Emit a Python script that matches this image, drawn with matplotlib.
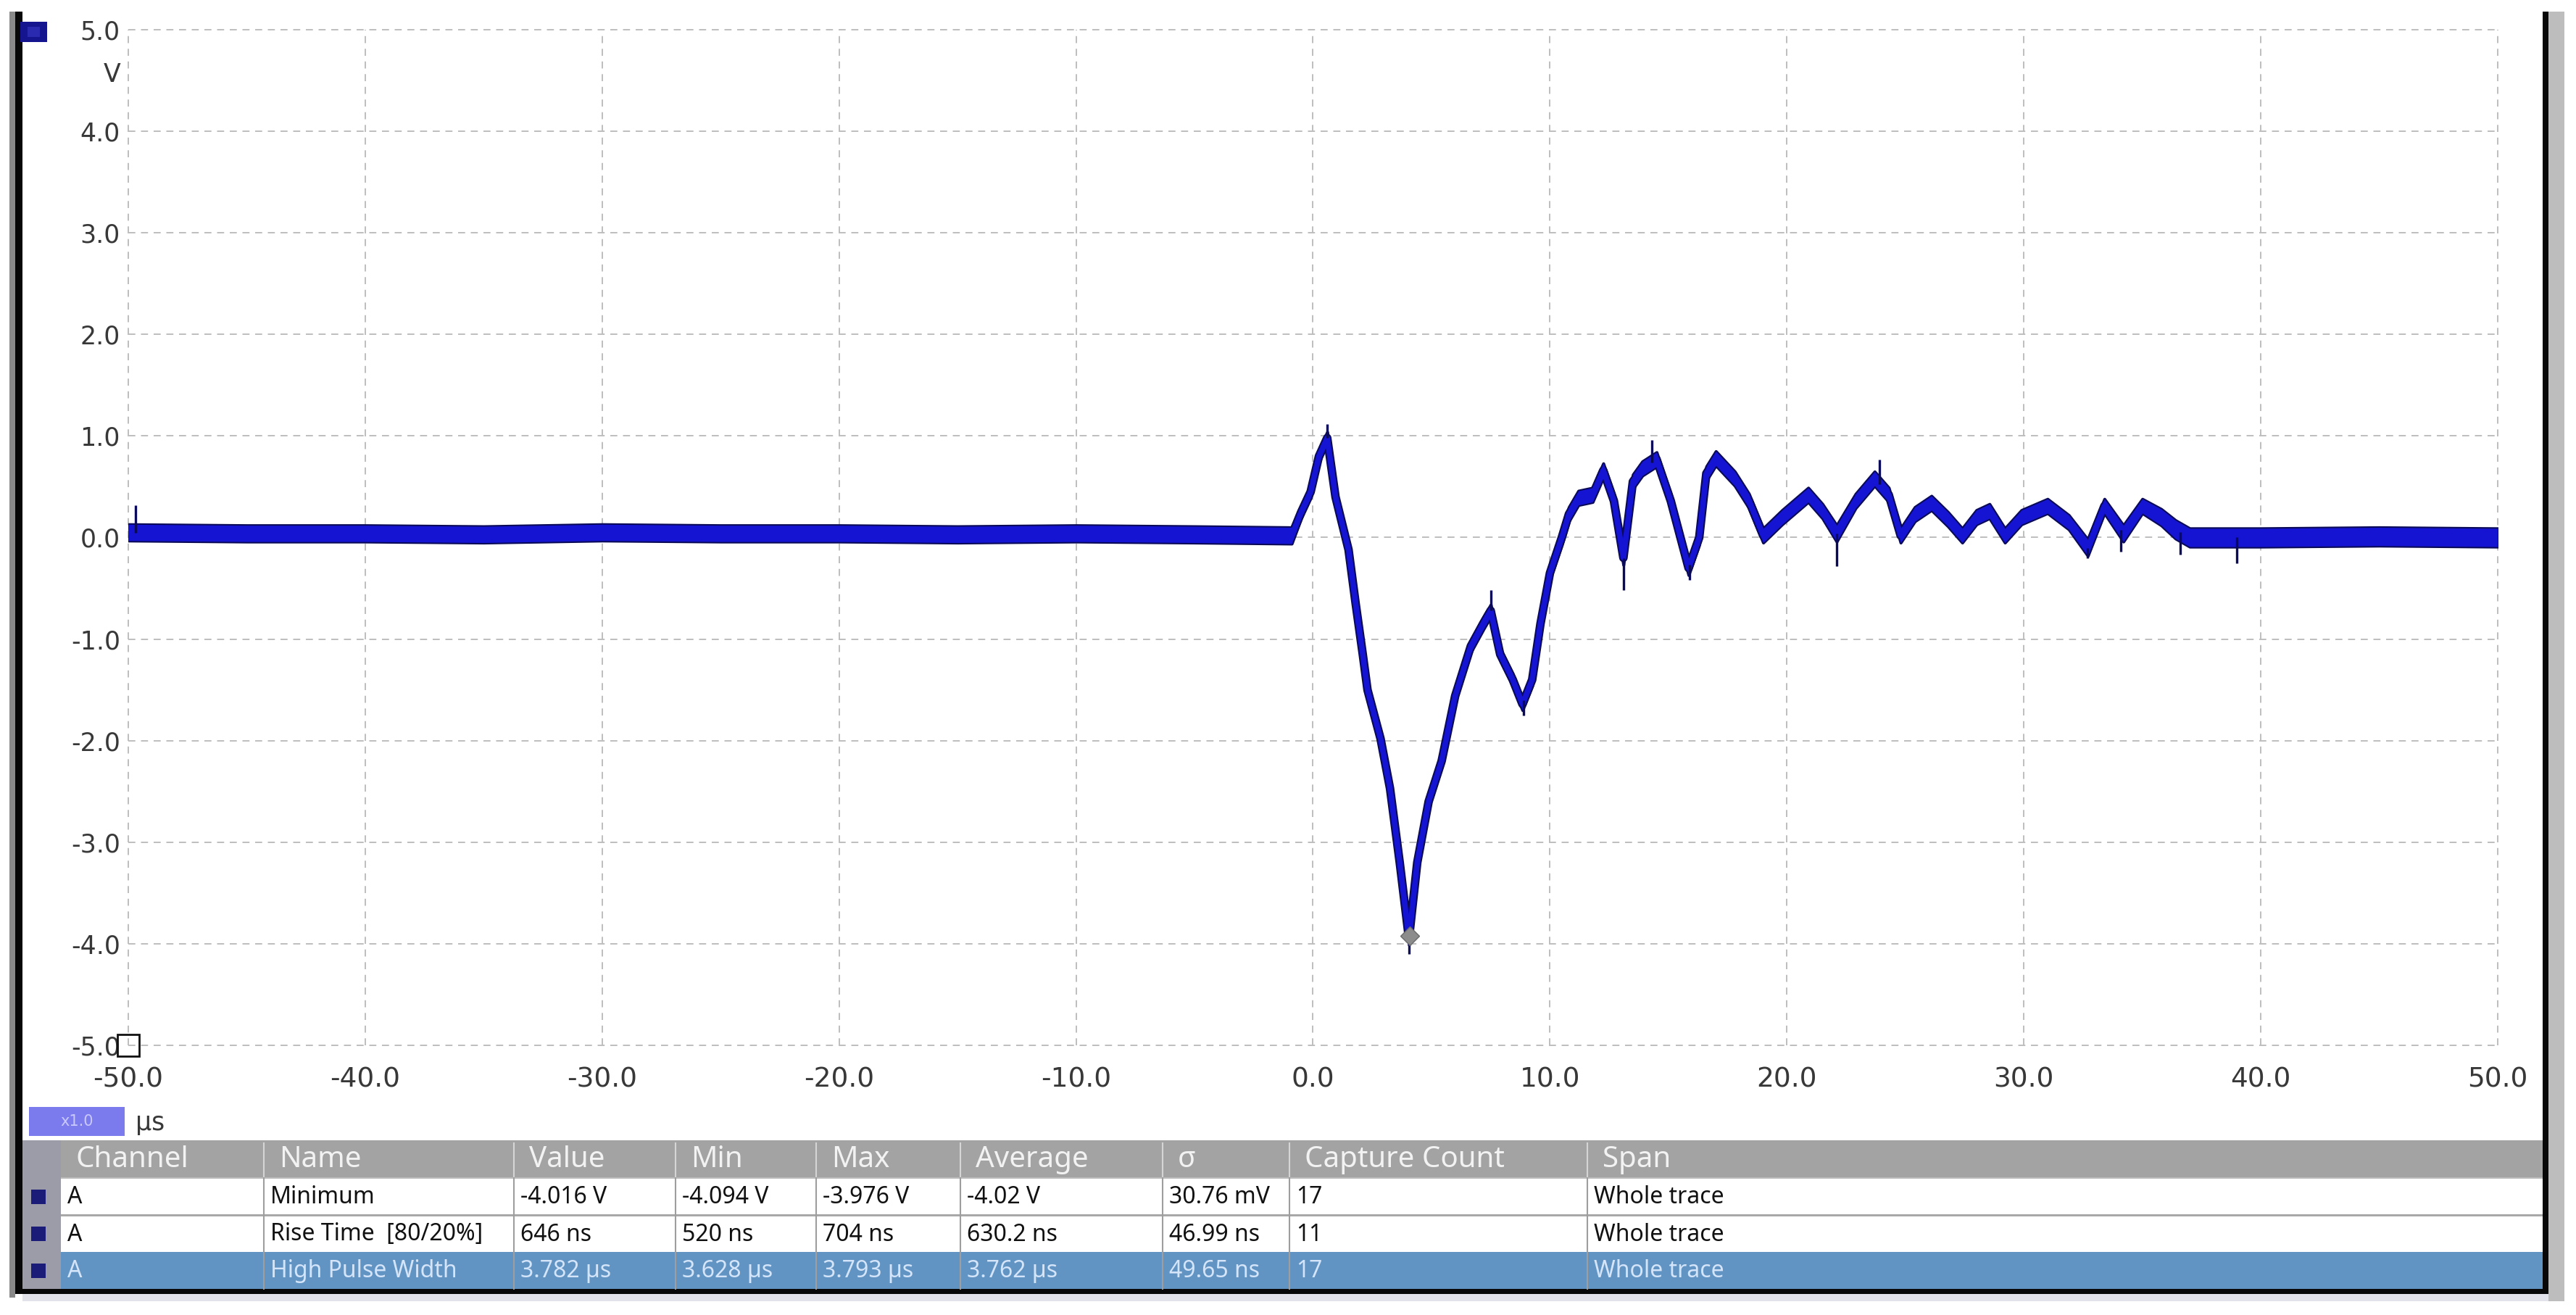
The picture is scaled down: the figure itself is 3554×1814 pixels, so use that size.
import matplotlib
matplotlib.use("Agg")
import matplotlib.pyplot as plt
from matplotlib.patches import Rectangle
import numpy as np

# ---------------- data ----------------
time_us = [-50.0, -45.0, -40.0, -35.0, -30.0, -25.0, -20.0, -15.0, -10.0, -5.0, -0.9,
           -0.5, -0.1, 0.25, 0.6, 0.95, 1.5, 1.8, 2.1, 2.3, 2.85, 3.25, 3.66, 4.05,
           4.4, 4.88, 5.43, 6.0, 6.66, 7.2, 7.5, 7.9, 8.43, 8.84, 9.25, 9.6, 10.0,
           10.5, 10.8, 11.2, 11.8, 12.25, 12.7, 13.1, 13.5, 13.9, 14.5, 15.1, 15.85, 16.3, 16.6,
           17.0, 17.8, 18.4, 19.0, 19.8, 20.9, 21.5, 22.1, 22.9, 23.7, 24.3, 24.8,
           25.4, 26.1, 26.8, 27.4, 28.0, 28.55, 29.2, 29.9, 31.0, 31.9, 32.7, 33.4,
           34.2, 35.0, 35.8, 36.4, 37.0, 40.0, 45.0, 50.0]
volts = [0.05, 0.04, 0.04, 0.03, 0.05, 0.04, 0.04, 0.03, 0.04, 0.03, 0.02,
         0.25, 0.45, 0.80, 0.98, 0.40, -0.12, -0.65, -1.15, -1.50, -1.98, -2.47, -3.20, -3.95,
         -3.20, -2.60, -2.20, -1.56, -1.07, -0.84, -0.72, -1.15, -1.40, -1.64, -1.40, -0.85, -0.35,
         0.00, 0.23, 0.39, 0.42, 0.66, 0.36, -0.20, 0.55, 0.68, 0.77, 0.36, -0.30, 0.00, 0.63,
         0.78, 0.58, 0.36, 0.02, 0.20, 0.42, 0.26, 0.04, 0.36, 0.58, 0.42, 0.02,
         0.23, 0.34, 0.18, 0.02, 0.20, 0.26, 0.02, 0.20, 0.31, 0.15, -0.10, 0.31,
         0.04, 0.31, 0.20, 0.08, 0.00, 0.00, 0.01, 0.00]
noise_halfwidth = [0.08, 0.08, 0.08, 0.08, 0.08, 0.08, 0.08, 0.08, 0.08, 0.08, 0.08,
                   0.06, 0.06, 0.06, 0.06, 0.06, 0.06, 0.06, 0.06, 0.06, 0.06, 0.06, 0.06, 0.06,
                   0.06, 0.06, 0.06, 0.06, 0.06, 0.06, 0.06, 0.06, 0.06, 0.06, 0.06, 0.06, 0.06,
                   0.07, 0.07, 0.07, 0.07, 0.07, 0.07, 0.07, 0.07, 0.07, 0.07, 0.07, 0.07, 0.07, 0.07,
                   0.07, 0.07, 0.07, 0.07, 0.07, 0.07, 0.07, 0.08, 0.07, 0.07, 0.07, 0.07,
                   0.07, 0.07, 0.07, 0.07, 0.07, 0.07, 0.07, 0.07, 0.07, 0.07, 0.08, 0.07,
                   0.08, 0.07, 0.08, 0.09, 0.09, 0.09, 0.09, 0.09]

spike_t = [-49.7, 0.6, 4.05, 7.5, 8.9, 13.1, 14.3, 15.9, 22.1, 23.9, 32.7, 34.1, 36.6, 39.0]
spike_v = [0.32, 1.12, -4.10, -0.52, -1.75, -0.52, 0.96, -0.42, -0.28, 0.77, -0.20, -0.14, -0.17, -0.25]

min_marker_t = 4.09
min_marker_v = -3.92

x_ticks = [-50, -40, -30, -20, -10, 0, 10, 20, 30, 40, 50]
y_ticks = [-5, -4, -3, -2, -1, 0, 1, 2, 3, 4, 5]

table_header = ["Channel", "Name", "Value", "Min", "Max", "Average", "σ", "Capture Count", "Span"]
table_rows = [
    ["A", "Minimum", "-4.016 V", "-4.094 V", "-3.976 V", "-4.02 V", "30.76 mV", "17", "Whole trace"],
    ["A", "Rise Time  [80/20%]", "646 ns", "520 ns", "704 ns", "630.2 ns", "46.99 ns", "11", "Whole trace"],
    ["A", "High Pulse Width", "3.782 µs", "3.628 µs", "3.793 µs", "3.762 µs", "49.65 ns", "17", "Whole trace"],
]

# ---------------- figure ----------------
W, H = 3555, 1814
fig = plt.figure(figsize=(W / 100, H / 100), dpi=100)
fig.patch.set_facecolor("white")

ax = fig.add_axes([177 / W, 1 - 1442 / H, (3446 - 177) / W, (1442 - 41) / H])
ax.set_xlim(-50, 50)
ax.set_ylim(-5, 5)
for s in ax.spines.values():
    s.set_visible(False)
ax.set_facecolor("white")

ax.set_xticks(x_ticks)
ax.set_xticklabels([f"{v:.1f}" for v in x_ticks], fontsize=27, color="#383838",
                   family="DejaVu Sans")
ax.set_yticks(y_ticks)
ax.set_yticklabels([f"{v:.1f}" for v in y_ticks], fontsize=25, color="#383838",
                   family="DejaVu Sans")
ax.tick_params(axis="x", length=0, pad=21)
ax.tick_params(axis="y", length=0, pad=8)

grid_style = dict(color="#BEBEBE", linewidth=1.4, linestyle=(0, (5, 4)), zorder=1, clip_on=False)
for xv in x_ticks:
    ax.axvline(xv, **grid_style)
for yv in y_ticks:
    ax.axhline(yv, **grid_style)

t = np.array(time_us)
v = np.array(volts)
hw = np.array(noise_halfwidth)
navy = "#0a0a58"
blue = "#1414d2"
# dark outline layer
ax.fill_between(t, v - hw, v + hw, color=navy, edgecolor=navy, linewidth=3, zorder=3)
ax.plot(t, v, color=navy, linewidth=8.5, zorder=3)
# blue core layer
ax.fill_between(t, v - hw, v + hw, color=blue, linewidth=0, zorder=4)
ax.plot(t, v, color=blue, linewidth=5.5, zorder=4)
# single-sample spikes
ax.vlines(spike_t, np.interp(spike_t, t, v), spike_v, color=navy, linewidth=2.4, zorder=4)

# minimum measurement marker
ax.plot([min_marker_t], [min_marker_v], marker="D", markersize=13, color="#8C8C8C",
        markeredgecolor="#6A6A6A", zorder=6)
# bottom-left axis handle square
ax.plot([-50], [-5], marker="s", markersize=21, markerfacecolor="none",
        markeredgecolor="#111111", markeredgewidth=2, clip_on=False, zorder=6)

# ---------------- overlay (pixel coordinates) ----------------
ov = fig.add_axes([0, 0, 1, 1], zorder=5)
ov.set_xlim(0, W)
ov.set_ylim(H, 0)
ov.axis("off")

def rect(x0, y0, x1, y1, color, z=1):
    ov.add_patch(Rectangle((x0, y0), x1 - x0, y1 - y0, facecolor=color, edgecolor="none", zorder=z))

# frame bars
rect(13, 16, 21, 1790, "#8A8A8A")
rect(21, 16, 31, 1785, "#080808")
rect(3508, 16, 3516, 1785, "#080808")
rect(3516, 16, 3538, 1795, "#BDBDBD")
rect(21, 1778, 3516, 1785, "#080808")
rect(31, 1785, 3516, 1795, "#E2E2EA")

# channel square top-left
rect(28, 30, 65, 58, "#15158F", z=3)
rect(38, 37, 55, 51, "#2A2AB0", z=3)

# unit label
ov.text(155, 103, "V", fontsize=25, color="#383838", ha="center", va="center", family="DejaVu Sans")
# x1.0 box and µs
rect(40, 1527, 172, 1567, "#7B7BEE", z=3)
ov.text(106, 1547, "x1.0", fontsize=15, color="#C9C9FF", ha="center", va="center",
        family="DejaVu Sans", zorder=4)
ov.text(187, 1549, "µs", fontsize=25, color="#383838", ha="left", va="center", family="DejaVu Sans")

# table
col_x = [84, 364, 709, 932, 1126, 1325, 1604, 1779, 2190]
tab_right = 3508
row_y = [1573, 1625, 1677, 1727, 1778]
tfont = "Noto Sans"

rect(31, row_y[0], 84, row_y[-1], "#9C9CA8", z=2)
rect(84, row_y[0], tab_right, row_y[1], "#A3A3A3", z=2)
rect(84, row_y[1], tab_right, row_y[3], "#FFFFFF", z=2)
rect(84, row_y[3], tab_right, row_y[4], "#6294C3", z=2)
rect(84, row_y[2] - 2, tab_right, row_y[2] + 1, "#A8A8A8", z=3)
rect(84, row_y[1] - 1, tab_right, row_y[1] + 1, "#BBBBBB", z=3)

for i, cx in enumerate(col_x):
    if i > 0:
        ov.plot([cx, cx], [row_y[0] + 4, row_y[1] - 2], color="#D5D5D5", lw=1.5, zorder=3)
        ov.plot([cx, cx], [row_y[1], row_y[4]], color="#9E9E9E", lw=1.5, zorder=3)
    ov.text(cx + 21, (row_y[0] + row_y[1]) / 2 + 1, table_header[i], fontsize=29,
            color="#F2F2F2", ha="left", va="center", family=tfont, zorder=4)

for r, row in enumerate(table_rows):
    yc = (row_y[r + 1] + row_y[r + 2]) / 2
    rect(43, yc - 10, 63, yc + 10, "#1B1B78", z=3)
    tcolor = "#D4E5FA" if r == 2 else "#111111"
    for i, cell in enumerate(row):
        ov.text(col_x[i] + 9, yc + 1, cell, fontsize=23, color=tcolor, ha="left",
                va="center", family=tfont, zorder=4)

fig.savefig("out.png", dpi=100, facecolor="white")
